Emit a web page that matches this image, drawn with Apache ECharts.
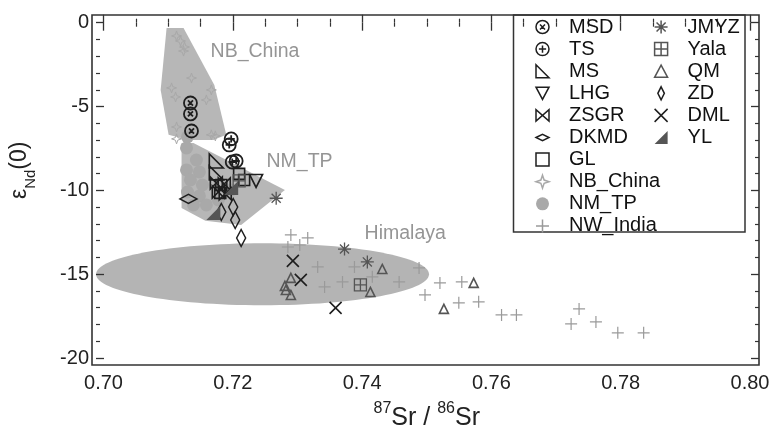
<!DOCTYPE html>
<html><head><meta charset="utf-8">
<script src="https://cdn.jsdelivr.net/npm/echarts@6/dist/echarts.min.js"></script>
<style>html,body{margin:0;padding:0;background:#fff}#c{width:774px;height:439px}</style>
</head><body><div id="c"></div>
<script>
// ---- tick labels ----
const xTickLabels = [0.70, 0.72, 0.74, 0.76, 0.78, 0.80];
const yTickLabels = [0, -5, -10, -15, -20];

// ---- fields ----
const NB_China_field = [[0.70976,-0.32],[0.71238,-0.32],[0.71714,-3.71],[0.71899,-6.69],[0.71699,-6.99],[0.71314,-6.99],[0.71007,-6.69],[0.70884,-4.01]];
const NM_TP_field = [[0.71207,-7.17],[0.71391,-7.17],[0.72806,-9.98],[0.72129,-12.06],[0.71576,-11.82],[0.71207,-11.05]];
const Himalaya_field = [[0.7246, -15.0, 0.02575, 1.85]]; // centre x, centre y, radius x, radius y

// ---- field labels ----
const fieldNames = ['NB_China', 'NM_TP', 'Himalaya'];
const fieldLabelPos = [[0.71648,-1.73],[0.72513,-8.29],[0.74031,-12.56]];

// ---- samples ----
const MSD = [[0.71345,-4.79],[0.71345,-5.44],[0.71361,-6.46]];
const TS = [[0.71975,-6.93],[0.71945,-7.29],[0.71991,-8.31],[0.72052,-8.25]];
const MS = [[0.71745,-8.25],[0.71745,-8.96]];
const LHG = [[0.72360,-9.44]];
const ZSGR = [[0.71745,-9.56],[0.71868,-9.62],[0.71776,-10.10],[0.71883,-10.21]];
const DKMD = [[0.71314,-10.51]];
const GL = [[0.71806,-10.15],[0.72175,-9.38],[0.72098,-9.02],[0.71822,-9.68]];
const NB_China = [[0.71130,-0.79],[0.71191,-1.09],[0.71253,-1.45],[0.71238,-1.69],[0.71361,-3.30],[0.71053,-3.89],[0.71115,-4.43],[0.71668,-4.01],[0.71591,-4.61],[0.71130,-6.22],[0.71130,-6.93],[0.71668,-6.69],[0.71730,-6.75]];
const NM_TP = [[0.71299,-6.81],[0.71284,-7.47],[0.71437,-8.19],[0.71284,-8.78],[0.71483,-8.90],[0.71345,-9.38],[0.71530,-9.68],[0.71299,-10.10],[0.71483,-10.33],[0.71391,-10.87],[0.71591,-10.87],[0.71776,-10.57],[0.71975,-9.98]];
const NW_India = [[0.72898,-12.66],[0.73159,-12.84],[0.72852,-13.38],[0.73036,-13.26],[0.73313,-14.57],[0.73420,-15.76],[0.73697,-15.46],[0.73882,-14.57],[0.74158,-15.16],[0.74573,-15.46],[0.74881,-14.63],[0.74973,-16.24],[0.75204,-15.52],[0.75542,-15.46],[0.75496,-16.71],[0.75803,-16.65],[0.76157,-17.43],[0.76387,-17.43],[0.77356,-17.07],[0.77233,-17.97],[0.77617,-17.85],[0.77955,-18.50],[0.78355,-18.50]];
const JMYZ = [[0.72671,-10.47],[0.73728,-13.50],[0.74081,-14.27]];
const Yala = [[0.73974,-15.64],[0.72098,-9.44]];
const QM = [[0.72898,-15.22],[0.72806,-15.70],[0.72821,-15.94],[0.72898,-16.24],[0.74312,-14.69],[0.74128,-16.06],[0.75726,-15.52],[0.75265,-17.07]];
const ZD = [[0.71822,-11.29],[0.72006,-10.99],[0.72037,-11.77],[0.72129,-12.84]];
const DML = [[0.72929,-14.21],[0.73052,-15.34],[0.73590,-17.01]];
const YL = [[0.71699,-11.35],[0.71975,-9.86]];

const legendCol1 = ['MSD','TS','MS','LHG','ZSGR','DKMD','GL','NB_China','NM_TP','NW_India'];
const legendCol2 = ['JMYZ','Yala','QM','ZD','DML','YL'];

const FONT = 'Liberation Sans, Arial, sans-serif';
const INK = '#1e1e1e';
const SYM = {
  circX: 'path://M1 10 A9 9 0 1 0 19 10 A9 9 0 1 0 1 10 Z M6.5 6.5 L13.5 13.5 M13.5 6.5 L6.5 13.5',
  circP: 'path://M1 10 A9 9 0 1 0 19 10 A9 9 0 1 0 1 10 Z M10 5 L10 15 M5 10 L15 10',
  rtri: 'path://M2 2 L2 18 L18 18 Z',
  dtri: 'path://M2 3 L18 3 L10 18 Z',
  bowtie: 'path://M2 3 L2 17 L18 3 L18 17 Z',
  hdiam: 'path://M0 5 L10 0 L20 5 L10 10 Z',
  hdiamLegend: 'path://M0 -3 M0 5 L10 0 L20 5 L10 10 Z M20 13',
  square: 'path://M1 1 L19 1 L19 19 L1 19 Z',
  star4: 'path://M10 0 L12.5 7.5 L20 10 L12.5 12.5 L10 20 L7.5 12.5 L0 10 L7.5 7.5 Z',
  plus: 'path://M10 0 L10 20 M0 10 L20 10',
  aster: 'path://M10 0 L10 20 M0 10 L20 10 M3 3 L17 17 M17 3 L3 17',
  sqPlus: 'path://M1 1 L19 1 L19 19 L1 19 Z M10 1 L10 19 M1 10 L19 10',
  utri: 'path://M10 2 L18 17 L2 17 Z',
  vdiam: 'path://M5 0 L10 10 L5 20 L0 10 Z',
  cross: 'path://M0 0 L20 20 M20 0 L0 20',
  filltri: 'path://M20 0 L20 20 L0 20 Z'
};

function pts(name, data, symbol, size, stroke, width, fill, z) {
  return {
    type: 'scatter', name, data, symbol, symbolSize: size, z: z || 4,
    itemStyle: { color: fill || 'none', borderColor: stroke, borderWidth: width, opacity: 1 },
    emphasis: { disabled: true }, silent: true
  };
}

function fieldPoly(name, poly) {
  return {
    type: 'custom', name, data: poly, z: 1, silent: true, clip: false,
    renderItem(params, api) {
      if (params.dataIndexInside !== 0) return;
      return { type: 'polygon', shape: { points: poly.map(p => api.coord(p)) }, style: { fill: '#b7b7b7', stroke: 'none' } };
    }
  };
}

const chart = echarts.init(document.getElementById('c'), null, { renderer: 'canvas' });

const axisTickStyle = { inside: true, length: 8, lineStyle: { color: '#333', width: 1.3 } };
const minorStyle = (n) => ({ show: true, splitNumber: n, length: 4, lineStyle: { color: '#333', width: 1.2 } });
const legendText = { fontSize: 20, lineHeight: 20, fontFamily: FONT, color: '#111', padding: [0, 0, 0, 15] };

chart.setOption({
  animation: false,
  backgroundColor: '#fff',
  grid: { left: 99.5, right: 24, top: 22.7, bottom: 81, containLabel: false },
  xAxis: [
    { type: 'value', position: 'bottom', min: 0.70, max: 0.80, interval: 0.02, offset: 6.5, z: 18,
      axisLine: { show: false }, axisTick: axisTickStyle, minorTick: minorStyle(4),
      splitLine: { show: false }, minorSplitLine: { show: false },
      axisLabel: { customValues: xTickLabels, fontSize: 20, fontFamily: FONT, color: '#222', margin: 9, formatter: v => v.toFixed(2) },
      name: '{sup|87}{b|Sr / }{sup|86}{b|Sr}', nameLocation: 'middle', nameGap: 36,
      nameTextStyle: { fontFamily: FONT, color: '#222', rich: {
        b: { fontSize: 25, fontFamily: FONT, color: '#222', lineHeight: 30, verticalAlign: 'bottom' },
        sup: { fontSize: 16, fontFamily: FONT, color: '#222', lineHeight: 30, verticalAlign: 'top' } } } },
    { type: 'value', position: 'top', min: 0.70, max: 0.80, interval: 0.02, offset: 7.7, z: 18,
      axisLine: { show: false }, axisTick: axisTickStyle, minorTick: minorStyle(4),
      splitLine: { show: false }, minorSplitLine: { show: false }, axisLabel: { show: false } }
  ],
  yAxis: [
    { type: 'value', position: 'left', min: -20, max: 0, interval: 5, offset: 7.5, z: 18,
      axisLine: { show: false }, axisTick: axisTickStyle, minorTick: minorStyle(5),
      splitLine: { show: false }, minorSplitLine: { show: false },
      axisLabel: { customValues: yTickLabels, fontSize: 20, fontFamily: FONT, color: '#222', margin: 7 },
      name: '{b|ε}{sub|Nd}{b|(0)}', nameLocation: 'middle', nameGap: 58,
      nameTextStyle: { fontFamily: FONT, color: '#222', padding: [0, 0, 0, 40], rich: {
        b: { fontSize: 23, fontFamily: FONT, color: '#222', lineHeight: 30, verticalAlign: 'top' },
        sub: { fontSize: 15, fontFamily: FONT, color: '#222', lineHeight: 30, verticalAlign: 'bottom' } } } },
    { type: 'value', position: 'right', min: -20, max: 0, interval: 5, offset: 9, z: 18,
      axisLine: { show: false }, axisTick: axisTickStyle, minorTick: minorStyle(5),
      splitLine: { show: false }, minorSplitLine: { show: false }, axisLabel: { show: false } }
  ],
  legend: [
    { data: legendCol1.map(n => n === 'DKMD' ? { name: n, icon: SYM.hdiamLegend } : n),
      left: 533.5, top: 17, orient: 'vertical', itemWidth: 13, itemHeight: 13, itemGap: 2.1, padding: 0, z: 20,
      selectedMode: false, itemStyle: { borderWidth: 1.5 }, textStyle: legendText },
    { data: legendCol2, left: 652.1, top: 17, orient: 'vertical', itemWidth: 13, itemHeight: 13, itemGap: 2.1, padding: 0, z: 20,
      selectedMode: false, itemStyle: { borderWidth: 1.5 }, textStyle: legendText }
  ],
  graphic: [
    { type: 'rect', z: 15, shape: { x: 513.5, y: 15, width: 231.5, height: 217 }, style: { fill: '#fff', stroke: '#333', lineWidth: 1.5 } },
    { type: 'rect', z: 30, shape: { x: 92, y: 15, width: 667, height: 350 }, style: { fill: 'none', stroke: '#333', lineWidth: 1.6 } }
  ],
  series: [
    fieldPoly('NB_China_field', NB_China_field),
    fieldPoly('NM_TP_field', NM_TP_field),
    { type: 'custom', name: 'Himalaya_field', data: Himalaya_field, z: 1, silent: true, clip: false,
      dimensions: ['x', 'y', 'rx', 'ry'], encode: { x: 0, y: 1 },
      renderItem(params, api) {
        const c = api.coord([api.value(0), api.value(1)]);
        const s = api.size([api.value(2), api.value(3)]);
        return { type: 'ellipse', shape: { cx: c[0], cy: c[1], rx: s[0], ry: s[1] }, style: { fill: '#b4b4b4', stroke: 'none' } };
      } },
    { type: 'scatter', name: 'field labels', z: 3, silent: true, symbolSize: 1, itemStyle: { color: 'rgba(0,0,0,0)' },
      data: fieldNames.map((n, i) => ({ name: n, value: fieldLabelPos[i] })),
      label: { show: true, position: 'right', distance: 0, formatter: p => p.name, fontSize: 19.5, fontFamily: FONT, color: '#7a7a7a' } },
    pts('NB_China', NB_China, SYM.star4, 10, '#a8a8a8', 1, 'none', 2),
    pts('NM_TP', NM_TP, 'circle', 13, 'none', 0, '#a9a9a9', 2),
    pts('NW_India', NW_India, SYM.plus, 12, '#9a9a9a', 1.2, 'none', 2),
    pts('MSD', MSD, SYM.circX, 13, INK, 1.8),
    pts('TS', TS, SYM.circP, 13, INK, 1.8),
    pts('MS', MS, SYM.rtri, 14, INK, 1.6),
    pts('LHG', LHG, SYM.dtri, 13, INK, 1.6),
    pts('ZSGR', ZSGR, SYM.bowtie, 12, INK, 1.6),
    pts('DKMD', DKMD, SYM.hdiam, [17, 9], INK, 1.6),
    pts('GL', GL, SYM.square, 11, INK, 1.6),
    pts('JMYZ', JMYZ, SYM.aster, 13, '#555', 1.3),
    pts('Yala', Yala, SYM.sqPlus, 12, '#555', 1.3),
    pts('QM', QM, SYM.utri, 9, '#555', 1.6),
    pts('ZD', ZD, SYM.vdiam, [9, 17], INK, 1.6),
    pts('DML', DML, SYM.cross, 12, INK, 1.6),
    pts('YL', YL, SYM.filltri, 14, 'none', 0, '#555')
  ]
});
</script></body></html>
